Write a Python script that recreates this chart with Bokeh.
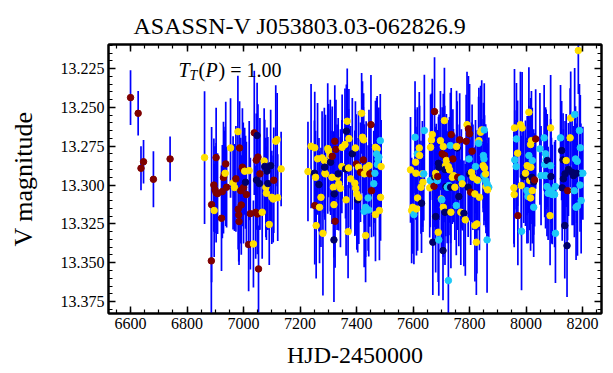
from bokeh.plotting import figure
from bokeh.models import (ColumnDataSource, Range1d, LinearAxis, FixedTicker,
                          PrintfTickFormatter, Label)
from bokeh.embed import file_html
from bokeh.resources import INLINE

# ---------------- data ----------------
hjd_s1 = [6600, 6627, 6637, 6646, 6681, 6740]
mag_s1 = [13.2437, 13.2538, 13.2892, 13.2850, 13.2963, 13.2832]
err_s1 = [0.0177, 0.0143, 0.0142, 0.0140, 0.0180, 0.0144]
grp_s1 = "rrrrrr"

hjd_s2 = [6862, 6886, 6887, 6895, 6899, 6903, 6908, 6896, 6903, 6922,
          6925, 6929, 6932, 6935, 6937, 6940, 6954, 6963, 6968, 6973,
          6980, 6986, 6981, 6983, 6984, 6990, 6992, 6996, 6999, 7004,
          7000, 7007, 7010, 7020, 7018, 7035, 7024, 7038, 7048, 7043,
          7049, 7051, 7045, 7046, 7056, 7053, 7058, 7066, 7073, 7075,
          7083, 7079, 7081, 7086, 7091, 7096, 7100, 7105, 7107, 7114,
          7119, 7121, 7133]
mag_s2 = [13.2823, 13.3488, 13.3126, 13.3000, 13.3030, 13.3050, 13.3055, 13.3164, 13.2823, 13.3214,
          13.3042, 13.2952, 13.2930, 13.2924, 13.2864, 13.3014, 13.2761, 13.2986, 13.3016, 13.2960,
          13.2656, 13.2761, 13.3155, 13.3192, 13.3235, 13.3036, 13.3128, 13.2885, 13.2898, 13.2911,
          13.3016, 13.2982, 13.3061, 13.2907, 13.3383, 13.3379, 13.3184, 13.2664, 13.2681, 13.3175,
          13.3186, 13.2820, 13.2840, 13.2968, 13.2990, 13.3540, 13.2928, 13.3175, 13.2845, 13.2880,
          13.2910, 13.3016, 13.3053, 13.2990, 13.3254, 13.2875, 13.3079, 13.3090, 13.2969, 13.2718,
          13.2707, 13.3081, 13.2896]
err_s2 = [0.0427, 0.034, 0.050, 0.030, 0.028, 0.032, 0.026, 0.030, 0.032, 0.034,
          0.030, 0.036, 0.028, 0.030, 0.040, 0.026, 0.032, 0.030, 0.028, 0.034,
          0.036, 0.030, 0.026, 0.030, 0.028, 0.034, 0.032, 0.038, 0.030, 0.028,
          0.036, 0.030, 0.034, 0.032, 0.030, 0.028, 0.036, 0.040, 0.034, 0.030,
          0.026, 0.034, 0.030, 0.032, 0.030, 0.028, 0.036, 0.030, 0.034, 0.030,
          0.028, 0.032, 0.030, 0.030, 0.026, 0.036, 0.030, 0.028, 0.034, 0.036,
          0.030, 0.028, 0.024]
grp_s2 = "yrrrrrryrr" "rrryrryyyr" "yrrrrrrrry" "rnryryrrnr" "rrrnnrryyn" "nyynynyyry" "yyy"

hjd_s3 = [7228, 7239, 7252, 7251, 7255, 7252, 7257, 7262, 7267, 7269,
          7274, 7278, 7281, 7286, 7288, 7290, 7287, 7298, 7301, 7307,
          7308, 7314, 7313, 7318, 7320, 7321, 7323, 7327, 7324, 7331,
          7335, 7320, 7337, 7343, 7349, 7348, 7359, 7361, 7363, 7364,
          7367, 7370, 7372, 7373, 7379, 7385, 7394, 7397, 7401, 7399,
          7396, 7404, 7407, 7408, 7414, 7418, 7421, 7425, 7424, 7428,
          7432, 7427, 7432, 7434, 7441, 7443, 7444, 7447, 7451, 7453,
          7461, 7465, 7467, 7473, 7471, 7476, 7479, 7484, 7474, 7467,
          7485, 7487, 7481]
mag_s3 = [13.2913, 13.2750, 13.2760, 13.2924, 13.2950, 13.3132, 13.3261, 13.2831, 13.2997, 13.3143,
          13.3079, 13.2825, 13.3311, 13.2842, 13.2924, 13.2928, 13.2885, 13.2765, 13.2778, 13.2810,
          13.2853, 13.2815, 13.2950, 13.3014, 13.3126, 13.3057, 13.2718, 13.2770, 13.3233, 13.2950,
          13.2928, 13.3353, 13.2992, 13.3021, 13.2757, 13.2881, 13.2739, 13.2896, 13.3095, 13.2653,
          13.2589, 13.3300, 13.2890, 13.2701, 13.2960, 13.2799, 13.2988, 13.3020, 13.3057, 13.2864,
          13.2761, 13.3095, 13.2885, 13.3079, 13.2918, 13.2538, 13.2692, 13.2709, 13.2838, 13.2928,
          13.3325, 13.3169, 13.3143, 13.2889, 13.3083, 13.3160, 13.2875, 13.2928, 13.2611, 13.3036,
          13.2991, 13.2924, 13.2757, 13.2767, 13.2800, 13.2834, 13.2820, 13.2714, 13.2868, 13.3190,
          13.3079, 13.2881, 13.3164]
err_s3 = [0.032, 0.040, 0.036, 0.034, 0.030, 0.038, 0.034, 0.036, 0.030, 0.036,
          0.032, 0.030, 0.040, 0.034, 0.030, 0.038, 0.032, 0.042, 0.030, 0.036,
          0.034, 0.032, 0.030, 0.036, 0.034, 0.030, 0.036, 0.032, 0.030, 0.034,
          0.036, 0.040, 0.030, 0.038, 0.034, 0.030, 0.036, 0.032, 0.036, 0.030,
          0.034, 0.030, 0.038, 0.032, 0.034, 0.036, 0.034, 0.030, 0.036, 0.032,
          0.030, 0.034, 0.036, 0.030, 0.032, 0.026, 0.036, 0.030, 0.034, 0.032,
          0.030, 0.036, 0.032, 0.030, 0.034, 0.030, 0.036, 0.034, 0.032, 0.030,
          0.034, 0.032, 0.030, 0.034, 0.036, 0.030, 0.032, 0.030, 0.034, 0.030,
          0.028, 0.030, 0.032]
grp_s3 = "yyynyryyny" "yyyyyynyyy" "nryyynrrry" "nnyyyyynyn" "yyyyynyyyr" "ynyyryyyry" "yccyccyrrr" "ccyycccccy" "yyy"

hjd_s4 = [7591, 7607, 7615, 7609, 7610, 7622, 7623, 7595, 7599, 7603,
          7612, 7616, 7630, 7628, 7633, 7638, 7635, 7640, 7662, 7665,
          7668, 7659, 7661, 7674, 7676, 7677, 7680, 7682, 7686, 7687,
          7680, 7670, 7689, 7691, 7690, 7692, 7697, 7700, 7703, 7706,
          7707, 7702, 7712, 7711, 7715, 7713, 7716, 7718, 7721, 7707,
          7713, 7725, 7729, 7727, 7733, 7735, 7725, 7732, 7739, 7741,
          7734, 7743, 7748, 7753, 7756, 7758, 7754, 7762, 7765, 7769,
          7771, 7774, 7780, 7785, 7788, 7791, 7795, 7801, 7796, 7800,
          7798, 7804, 7807, 7809, 7812, 7819, 7824, 7821, 7826, 7833,
          7832, 7830, 7835, 7839, 7843, 7852, 7849, 7851, 7848, 7853,
          7851, 7857, 7857, 7858, 7862, 7868, 7864, 7862, 7827, 7819]
mag_s4 = [13.2902, 13.2692, 13.2799, 13.2853, 13.2924, 13.2761, 13.2810, 13.3164, 13.3143, 13.3190,
          13.3154, 13.3083, 13.3117, 13.3014, 13.2928, 13.2928, 13.2982, 13.2649, 13.2757, 13.2710,
          13.2675, 13.3018, 13.2971, 13.3008, 13.2527, 13.2950, 13.2924, 13.2945, 13.2971, 13.2945,
          13.3203, 13.3368, 13.3304, 13.3353, 13.2860, 13.2885, 13.2714, 13.3089, 13.2799, 13.3422,
          13.2752, 13.3095, 13.2810, 13.2585, 13.2875, 13.2900, 13.3010, 13.2842, 13.3014, 13.3143,
          13.3175, 13.2881, 13.2902, 13.3003, 13.3014, 13.2675, 13.3615, 13.2746, 13.2950, 13.2832,
          13.3175, 13.2939, 13.3014, 13.3132, 13.2761, 13.2950, 13.2752, 13.3074, 13.2709, 13.3175,
          13.2960, 13.2992, 13.3182, 13.3224, 13.2718, 13.2611, 13.3014, 13.2928, 13.2638, 13.2670,
          13.2832, 13.3046, 13.2918, 13.2782, 13.2950, 13.3261, 13.3368, 13.2881, 13.3250, 13.2714,
          13.2731, 13.2971, 13.3079, 13.2660, 13.2645, 13.2645, 13.2810, 13.2832, 13.2875, 13.2890,
          13.2939, 13.2971, 13.2928, 13.3010, 13.2992, 13.3014, 13.3031, 13.3353, 13.2967, 13.3057]
err_s4 = [0.034, 0.036, 0.030, 0.034, 0.030, 0.036, 0.032, 0.034, 0.030, 0.032,
          0.030, 0.034, 0.032, 0.030, 0.034, 0.030, 0.032, 0.036, 0.034, 0.030,
          0.036, 0.032, 0.030, 0.034, 0.035, 0.032, 0.030, 0.034, 0.032, 0.030,
          0.036, 0.034, 0.032, 0.036, 0.030, 0.034, 0.032, 0.034, 0.030, 0.032,
          0.034, 0.030, 0.032, 0.034, 0.030, 0.034, 0.032, 0.030, 0.036, 0.032,
          0.034, 0.030, 0.034, 0.032, 0.036, 0.030, 0.045, 0.034, 0.030, 0.032,
          0.036, 0.030, 0.034, 0.032, 0.030, 0.034, 0.036, 0.032, 0.030, 0.034,
          0.032, 0.030, 0.034, 0.036, 0.030, 0.034, 0.032, 0.030, 0.034, 0.032,
          0.030, 0.034, 0.032, 0.030, 0.034, 0.036, 0.034, 0.030, 0.032, 0.034,
          0.030, 0.032, 0.034, 0.030, 0.032, 0.030, 0.034, 0.032, 0.030, 0.034,
          0.032, 0.030, 0.032, 0.030, 0.034, 0.032, 0.030, 0.034, 0.032, 0.030]
grp_s4 = "yccyyyyyyc" "yynyycycyy" "yycrrnyycr" "nnycnnyyrn" "ycryynnycy" "nyycnrccyr" "yyycnrynry" "cynyrynnrr" "cryryyycyy" "ccyyycccyy" "ccyyccycyy"

hjd_s5 = [7959, 7966, 7970, 7960, 7965, 7957, 7958, 7971, 7984, 7980,
          7986, 7983, 7992, 7998, 8004, 8010, 8017, 8010, 8010, 8003,
          8007, 8013, 8016, 8016, 8019, 8022, 8027, 8021, 8027, 8034,
          8030, 8022, 8049, 8053, 8064, 8069, 8071, 8066, 8075, 8069,
          8074, 8078, 8087, 8085, 8087, 8090, 8093, 8104, 8101, 8104,
          8088, 8122, 8126, 8131, 8128, 8132, 8137, 8145, 8142, 8147,
          8138, 8150, 8156, 8158, 8163, 8168, 8172, 8175, 8181, 8171,
          8177, 8182, 8185, 8189, 8192, 8194, 8191, 8195, 8179, 8201]
mag_s5 = [13.2632, 13.2703, 13.2795, 13.2838, 13.2881, 13.3018, 13.3061, 13.3197, 13.3298, 13.2611,
          13.2632, 13.3003, 13.2945, 13.2924, 13.2875, 13.2880, 13.2885, 13.2810, 13.2531, 13.3036,
          13.3074, 13.2971, 13.3083, 13.2739, 13.2714, 13.3036, 13.3143, 13.2950, 13.2980, 13.2703,
          13.2967, 13.2842, 13.2767, 13.2939, 13.2696, 13.2799, 13.2834, 13.2868, 13.2842, 13.2939,
          13.3010, 13.3053, 13.2632, 13.3197, 13.2875, 13.3036, 13.3061, 13.3010, 13.3061, 13.3311,
          13.2945, 13.2696, 13.2778, 13.2838, 13.3018, 13.2960, 13.3261, 13.3390, 13.2842, 13.3036,
          13.2928, 13.2900, 13.2696, 13.2569, 13.2918, 13.2939, 13.2546, 13.2832, 13.2847, 13.3036,
          13.3143, 13.3135, 13.2134, 13.2649, 13.2760, 13.2924, 13.3000, 13.3100, 13.2924, 13.2924]
err_s5 = [0.038, 0.036, 0.034, 0.032, 0.030, 0.036, 0.034, 0.032, 0.038, 0.034,
          0.036, 0.032, 0.030, 0.034, 0.032, 0.030, 0.034, 0.032, 0.029, 0.034,
          0.030, 0.032, 0.034, 0.030, 0.032, 0.034, 0.032, 0.030, 0.034, 0.032,
          0.030, 0.034, 0.036, 0.032, 0.034, 0.030, 0.032, 0.034, 0.030, 0.034,
          0.032, 0.030, 0.034, 0.032, 0.030, 0.034, 0.032, 0.030, 0.034, 0.032,
          0.030, 0.034, 0.032, 0.030, 0.034, 0.032, 0.034, 0.033, 0.030, 0.032,
          0.034, 0.030, 0.032, 0.030, 0.034, 0.032, 0.030, 0.034, 0.032, 0.030,
          0.034, 0.032, 0.028, 0.030, 0.034, 0.032, 0.030, 0.034, 0.032, 0.030]
grp_s5 = "ycyccyyrcy" "yynyyyycyc" "cyyyyycnnr" "rcccccccnc" "ccyycccccc" "ncnnnnnnyr" "nnyynncccc" "ccycccccnc"

x_ticks = [6600, 6800, 7000, 7200, 7400, 7600, 7800, 8000, 8200]
y_ticks = [13.225, 13.250, 13.275, 13.300, 13.325, 13.350, 13.375]

group_colors = {"r": "#7f0000", "y": "#ffdf00", "c": "#1cc8f8", "n": "#00006a"}

# ---------------- assemble ----------------
seasons = [(hjd_s1, mag_s1, err_s1, grp_s1), (hjd_s2, mag_s2, err_s2, grp_s2),
           (hjd_s3, mag_s3, err_s3, grp_s3), (hjd_s4, mag_s4, err_s4, grp_s4),
           (hjd_s5, mag_s5, err_s5, grp_s5)]
xs, ys, lo, hi, cols = [], [], [], [], []
for h, m, e, g in seasons:
    assert len(h) == len(m) == len(e) == len(g), (len(h), len(m), len(e), len(g))
    for a, b, c, d in zip(h, m, e, g):
        xs.append(a); ys.append(b); lo.append(b - c); hi.append(b + c)
        cols.append(group_colors[d])
src = ColumnDataSource(dict(x=xs, y=ys, lo=lo, hi=hi, col=cols))

FONT = "Liberation Serif"

p = figure(width=610, height=372, output_backend="svg", toolbar_location=None,
           x_range=Range1d(6522, 8267), y_range=Range1d(13.3827, 13.2095),
           min_border_left=108, min_border_right=9, min_border_top=44,
           min_border_bottom=59)
p.xgrid.visible = False
p.ygrid.visible = False
p.outline_line_color = "black"
p.outline_line_width = 2
p.background_fill_color = "white"

p.title.text = "ASASSN-V J053803.03-062826.9"
p.title.text_font = FONT
p.title.text_font_size = "24px"
p.title.text_font_style = "normal"
p.title.text_color = "black"
p.title.align = "left"
p.title.offset = 25
p.title.standoff = 12

xt = FixedTicker(ticks=x_ticks, minor_ticks=list(range(6550, 8300, 50)))
yt = FixedTicker(ticks=y_ticks, minor_ticks=[13.21 + 0.005 * i for i in range(36)])

def style(ax):
    ax.axis_line_width = 2
    ax.major_tick_in = 7
    ax.major_tick_out = 0
    ax.minor_tick_in = 4
    ax.minor_tick_out = 0
    ax.major_tick_line_width = 1.5
    ax.minor_tick_line_width = 1.2
    ax.major_label_text_font = FONT
    ax.major_label_text_font_style = "normal"
    ax.major_label_text_font_size = "16px"
    ax.major_label_text_color = "black"
    ax.axis_label_text_font = FONT
    ax.axis_label_text_font_style = "normal"
    ax.axis_label_text_color = "black"

xa = p.xaxis[0]
xa.ticker = xt
style(xa)
xa.axis_label = "HJD-2450000"
xa.axis_label_text_font_size = "24px"
xa.major_label_standoff = 4
xa.axis_label_standoff = 10

ya = p.yaxis[0]
ya.ticker = yt
ya.formatter = PrintfTickFormatter(format="%.3f")
style(ya)
ya.axis_label = "V magnitude"
ya.axis_label_text_font_size = "26px"
ya.major_label_standoff = 4
ya.axis_label_standoff = 20

for side, tk in (("right", yt), ("above", xt)):
    ax = LinearAxis(ticker=tk)
    style(ax)
    ax.major_label_text_font_size = "1px"
    ax.major_label_text_color = None
    ax.major_label_standoff = 0
    p.add_layout(ax, side)

# error bars then points
p.segment(x0="x", y0="lo", x1="x", y1="hi", source=src, line_color="#0000ff",
          line_width=1.7)
p.scatter("x", "y", source=src, size=6.5, fill_color="col", line_color="col")

# T_T(P) = 1.00 annotation
lx, ly = 6770, 13.2258
pieces = [("T", 0, 0, "20px", "italic"), ("T", 11, -6, "14px", "italic"),
          ("(", 20, 0, "20px", "normal"), ("P", 27, 0, "20px", "italic"),
          (") = 1.00", 40, 0, "20px", "normal")]
for txt, dx, dy, fs, st in pieces:
    p.add_layout(Label(x=lx, y=ly, text=txt, x_offset=dx, y_offset=dy,
                       text_font=FONT, text_font_size=fs, text_font_style=st,
                       text_baseline="middle", text_color="black"))

open("out.html", "w").write(file_html(p, INLINE))
